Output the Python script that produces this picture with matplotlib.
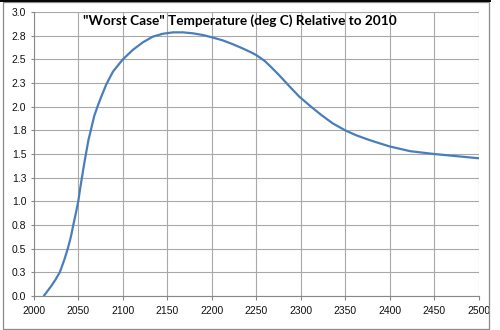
import matplotlib
matplotlib.use('Agg')
import matplotlib.pyplot as plt
from matplotlib.patches import Rectangle
from matplotlib.lines import Line2D

# 读图得到的数据（年份，相对2010年的温度）
years = [2011, 2019, 2024, 2029, 2034, 2038, 2041.6, 2044.2, 2047.2, 2049.8,
         2052, 2053.9, 2056.5, 2058.4, 2061.3, 2063.9, 2067.7, 2071.4, 2075,
         2081.3, 2088.8, 2100, 2111.2, 2122.5, 2133.7, 2144.9, 2156.2, 2167.4,
         2178.7, 2189.9, 2201.1, 2212.4, 2223.6, 2234.8, 2245, 2250, 2259.3,
         2268.7, 2278, 2287.3, 2298.5, 2311.6, 2322.8, 2335.8, 2350, 2361.9,
         2375, 2382, 2400, 2423, 2450, 2475.6, 2500]
temps = [0.00, 0.10, 0.17, 0.25, 0.38, 0.50, 0.63, 0.75, 0.88, 1.00,
         1.14, 1.25, 1.40, 1.50, 1.65, 1.75, 1.90, 2.00, 2.09,
         2.235, 2.37, 2.50, 2.60, 2.68, 2.74, 2.77, 2.785, 2.785,
         2.775, 2.757, 2.73, 2.70, 2.66, 2.615, 2.57, 2.545, 2.485,
         2.40, 2.31, 2.215, 2.105, 2.00, 1.915, 1.825, 1.75, 1.70,
         1.655, 1.633, 1.58, 1.53, 1.50, 1.477, 1.455]

xticks = list(range(2000, 2501, 50))
yticks = [i * 0.25 for i in range(13)]
ylabels = ['0.0', '0.3', '0.5', '0.8', '1.0', '1.3', '1.5', '1.8',
           '2.0', '2.3', '2.5', '2.8', '3.0']
title = '"Worst Case" Temperature (deg C) Relative to 2010'

fig = plt.figure(figsize=(5, 3.3), dpi=100)
ax = fig.add_axes([34 / 500, 1 - 296 / 330, 444.5 / 500, 284 / 330])

ax.plot(years, temps, color='#4a7ebb', linewidth=1.6, solid_capstyle='round',
        solid_joinstyle='round', zorder=3)

ax.set_xlim(2000, 2500)
ax.set_ylim(0, 3)
ax.set_xticks(xticks)
ax.set_yticks(yticks)
ax.set_yticklabels(ylabels)
ax.grid(True, color='#a8a8a8', linewidth=0.8)
ax.set_axisbelow(True)

for s in ['top', 'right']:
    ax.spines[s].set_visible(False)
for s in ['left', 'bottom']:
    ax.spines[s].set_color('#888888')
    ax.spines[s].set_linewidth(0.8)

ax.tick_params(axis='x', length=3, width=0.8, color='#888888', pad=4,
               labelsize=7.5, labelcolor='#111111')
ax.tick_params(axis='y', length=2.5, width=0.8, color='#888888', pad=3,
               labelsize=7.5, labelcolor='#111111')
for lab in ax.get_xticklabels() + ax.get_yticklabels():
    lab.set_family('Liberation Sans')

fig.text(240 / 500, 1 - 25 / 330, title, ha='center', va='baseline',
         fontsize=9.8, fontweight='bold', family='Lato', color='#000000')

# 外边框
fig.patches.append(Rectangle((2.5 / 500, 1.5 / 330), 486.5 / 500, 327 / 330,
                             transform=fig.transFigure, fill=False,
                             edgecolor='#8a8a8a', linewidth=0.9))
fig.lines.append(Line2D([0, 490 / 500], [1 - 0.8 / 330, 1 - 0.8 / 330],
                        transform=fig.transFigure, color='#000000',
                        linewidth=1.4))

fig.savefig('out.png', dpi=100)
